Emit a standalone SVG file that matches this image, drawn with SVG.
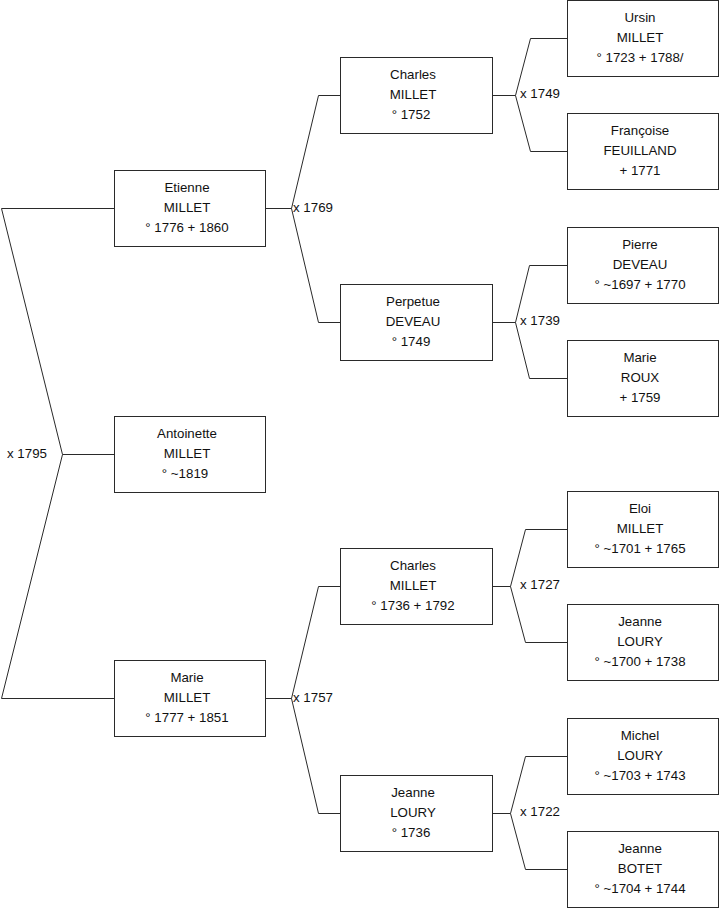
<svg xmlns="http://www.w3.org/2000/svg" width="719" height="908" viewBox="0 0 719 908">
<style>
  .box { fill: #ffffff; stroke: #2a2a2a; stroke-width: 1; }
  .con { fill: none; stroke: #2a2a2a; stroke-width: 1; }
  text { font-family: "Liberation Sans", Arial, sans-serif; font-size: 13.3px; fill: #111; }
  .n text { text-anchor: middle; }
</style>
<rect x="0" y="0" width="719" height="908" fill="#ffffff"/>
<g id="connectors">
  <path class="con" d="M114.5,208.5 H1.5 L62.5,454.5 L1.5,698.5 H114.5 M62.5,454.5 H114.5"/>
  <path class="con" d="M265.5,208.5 H291.5 L318.5,95.5 H340.5 M291.5,208.5 L318.5,322.5 H340.5"/>
  <path class="con" d="M265.5,698.5 H291.5 L318.5,586.5 H340.5 M291.5,698.5 L318.5,813.5 H340.5"/>
  <path class="con" d="M492.5,95.5 H515.5 L530.5,38.5 H567.5 M515.5,95.5 L530.5,151.5 H567.5"/>
  <path class="con" d="M492.5,322.5 H515.5 L529.5,265.5 H567.5 M515.5,322.5 L529.5,378.5 H567.5"/>
  <path class="con" d="M492.5,586.5 H510.5 L525.5,529.5 H567.5 M510.5,586.5 L525.5,642.5 H567.5"/>
  <path class="con" d="M492.5,813.5 H510.5 L525.5,756.5 H567.5 M510.5,813.5 L525.5,869.5 H567.5"/>
  <text x="7" y="457.5">x 1795</text>
  <text x="293" y="212">x 1769</text>
  <text x="293" y="702">x 1757</text>
  <text x="520" y="98">x 1749</text>
  <text x="520" y="325">x 1739</text>
  <text x="520" y="589">x 1727</text>
  <text x="520" y="816">x 1722</text>
</g>
<g id="etienne" class="n">
  <rect class="box" x="114.5" y="170.5" width="151" height="76"/>
  <text x="187" y="191.5">Etienne</text>
  <text x="187" y="211.5">MILLET</text>
  <text x="187" y="231.5">° 1776 + 1860</text>
</g>
<g id="antoinette" class="n">
  <rect class="box" x="114.5" y="416.5" width="151" height="76"/>
  <text x="187" y="437.5">Antoinette</text>
  <text x="187" y="457.5">MILLET</text>
  <text x="185" y="477.5">° ~1819</text>
</g>
<g id="marie" class="n">
  <rect class="box" x="114.5" y="660.5" width="151" height="76"/>
  <text x="187" y="681.5">Marie</text>
  <text x="187" y="701.5">MILLET</text>
  <text x="187" y="721.5">° 1777 + 1851</text>
</g>
<g id="charles1" class="n">
  <rect class="box" x="340.5" y="57.5" width="152" height="76"/>
  <text x="413" y="78.5">Charles</text>
  <text x="413" y="98.5">MILLET</text>
  <text x="411" y="118.5">° 1752</text>
</g>
<g id="perpetue" class="n">
  <rect class="box" x="340.5" y="284.5" width="152" height="76"/>
  <text x="413" y="305.5">Perpetue</text>
  <text x="413" y="325.5">DEVEAU</text>
  <text x="411" y="345.5">° 1749</text>
</g>
<g id="charles2" class="n">
  <rect class="box" x="340.5" y="548.5" width="152" height="76"/>
  <text x="413" y="569.5">Charles</text>
  <text x="413" y="589.5">MILLET</text>
  <text x="413" y="609.5">° 1736 + 1792</text>
</g>
<g id="jeanne1" class="n">
  <rect class="box" x="340.5" y="775.5" width="152" height="76"/>
  <text x="413" y="796.5">Jeanne</text>
  <text x="413" y="816.5">LOURY</text>
  <text x="411" y="836.5">° 1736</text>
</g>
<g id="ursin" class="n">
  <rect class="box" x="567.5" y="0.5" width="151" height="76"/>
  <text x="640" y="21.5">Ursin</text>
  <text x="640" y="41.5">MILLET</text>
  <text x="640" y="61.5">° 1723 + 1788/</text>
</g>
<g id="francoise" class="n">
  <rect class="box" x="567.5" y="113.5" width="151" height="76"/>
  <text x="640" y="134.5">Françoise</text>
  <text x="640" y="154.5">FEUILLAND</text>
  <text x="640" y="174.5">+ 1771</text>
</g>
<g id="pierre" class="n">
  <rect class="box" x="567.5" y="227.5" width="151" height="76"/>
  <text x="640" y="248.5">Pierre</text>
  <text x="640" y="268.5">DEVEAU</text>
  <text x="640" y="288.5">° ~1697 + 1770</text>
</g>
<g id="marie2" class="n">
  <rect class="box" x="567.5" y="340.5" width="151" height="76"/>
  <text x="640" y="361.5">Marie</text>
  <text x="640" y="381.5">ROUX</text>
  <text x="640" y="401.5">+ 1759</text>
</g>
<g id="eloi" class="n">
  <rect class="box" x="567.5" y="491.5" width="151" height="76"/>
  <text x="640" y="512.5">Eloi</text>
  <text x="640" y="532.5">MILLET</text>
  <text x="640" y="552.5">° ~1701 + 1765</text>
</g>
<g id="jeanne2" class="n">
  <rect class="box" x="567.5" y="604.5" width="151" height="76"/>
  <text x="640" y="625.5">Jeanne</text>
  <text x="640" y="645.5">LOURY</text>
  <text x="640" y="665.5">° ~1700 + 1738</text>
</g>
<g id="michel" class="n">
  <rect class="box" x="567.5" y="718.5" width="151" height="76"/>
  <text x="640" y="739.5">Michel</text>
  <text x="640" y="759.5">LOURY</text>
  <text x="640" y="779.5">° ~1703 + 1743</text>
</g>
<g id="jeanne3" class="n">
  <rect class="box" x="567.5" y="831.5" width="151" height="76"/>
  <text x="640" y="852.5">Jeanne</text>
  <text x="640" y="872.5">BOTET</text>
  <text x="640" y="892.5">° ~1704 + 1744</text>
</g>
</svg>
